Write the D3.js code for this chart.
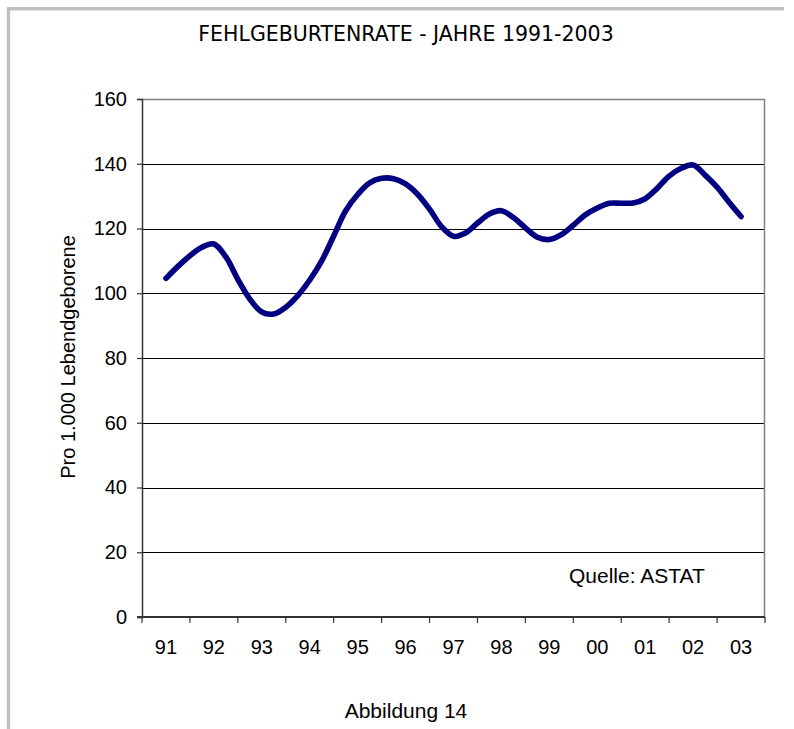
<!DOCTYPE html>
<html>
<head>
<meta charset="utf-8">
<script src="https://cdn.jsdelivr.net/npm/d3@7"></script>
<style>
  body { margin: 0; background: #fff; }
  svg { display: block; }
  text { font-family: "Liberation Sans", Arial, sans-serif; fill: #000; }
</style>
</head>
<body>
<svg id="chart" width="794" height="729"></svg>
<script>
// year categories on the x axis
var years = ["91", "92", "93", "94", "95", "96", "97", "98", "99", "00", "01", "02", "03"]
// quarterly rate per 1000 live births, 1991 to 2003
var rates = [
  104.6, 108.3, 111.6, 114.2, 115.2, 111.2, 104.3, 98.2,
  94.2, 93.6, 95.7, 99.3, 104.1, 110.0, 117.7, 125.5,
  130.5, 134.1, 135.5, 135.4, 133.8, 130.6, 126.0, 120.6,
  117.6, 118.6, 121.7, 124.5, 125.5, 123.4, 120.2, 117.3,
  116.6, 118.1, 121.0, 124.2, 126.3, 127.8, 127.8, 127.9,
  129.2, 132.4, 136.2, 138.6, 139.6, 136.5, 132.8, 128.1, 123.7
]
var yTicks = [0, 20, 40, 60, 80, 100, 120, 140, 160]

var svg = d3.select("#chart")

// outer frame, only top and left edges show
svg.append("line").attr("x1", 7).attr("x2", 784).attr("y1", 8.7).attr("y2", 8.7)
  .attr("stroke", "#c0c0c0").attr("stroke-width", 3.4)
svg.append("line").attr("x1", 8.5).attr("x2", 8.5).attr("y1", 7).attr("y2", 729)
  .attr("stroke", "#c0c0c0").attr("stroke-width", 3.4)

// plot area box (named so they don't clash with window.top)
var plotLeft = 142, plotRight = 765, plotTop = 99, plotBottom = 617

var x = d3.scaleBand().domain(years).range([plotLeft, plotRight]).padding(0)
var y = d3.scaleLinear().domain([0, 160]).range([plotBottom, plotTop])
// position of a quarter (in years since the first one) along the axis
var xq = d3.scaleLinear().domain([0, years.length - 1])
  .range([x(years[0]) + x.bandwidth() / 2, x(years[years.length - 1]) + x.bandwidth() / 2])

// gridlines
svg.append("g").selectAll("line")
  .data(yTicks.filter(function(d) { return d > 0 && d < 160 }))
  .join("line")
  .attr("x1", plotLeft).attr("x2", plotRight)
  .attr("y1", function(d) { return Math.round(y(d)) + 0.5 })
  .attr("y2", function(d) { return Math.round(y(d)) + 0.5 })
  .attr("stroke", "#000").attr("stroke-width", 1)

// plot area border, top and right in grey
svg.append("path")
  .attr("d", "M" + plotLeft + "," + (plotTop + 0.5) + "H" + (plotRight - 0.5) + "V" + plotBottom)
  .attr("fill", "none").attr("stroke", "#808080").attr("stroke-width", 1.5)

// y axis
var yAxis = svg.append("g").attr("transform", "translate(" + plotLeft + ",0)")
  .call(d3.axisLeft(y).tickValues(yTicks).tickSize(5).tickPadding(10))
yAxis.select(".domain").attr("stroke", "#333").attr("stroke-width", 1.5)
yAxis.selectAll(".tick line").attr("stroke", "#333").attr("stroke-width", 1.2)
yAxis.selectAll("text").attr("font-size", 20).attr("font-family", "Liberation Sans, Arial, sans-serif")

// x axis: ticks between categories, labels centred
var xAxis = svg.append("g").attr("transform", "translate(0," + plotBottom + ")")
xAxis.append("line").attr("x1", plotLeft - 5).attr("x2", plotRight).attr("y1", 0).attr("y2", 0)
  .attr("stroke", "#333").attr("stroke-width", 2)
xAxis.selectAll(".sep")
  .data(years.map(function(d) { return x(d) }).concat([plotRight]))
  .join("line").attr("class", "sep")
  .attr("x1", function(d) { return d }).attr("x2", function(d) { return d })
  .attr("y1", 0).attr("y2", 6)
  .attr("stroke", "#333").attr("stroke-width", 1.2)
xAxis.selectAll(".lab")
  .data(years).join("text").attr("class", "lab")
  .attr("x", function(d) { return x(d) + x.bandwidth() / 2 })
  .attr("y", 30)
  .attr("dy", "0.35em")
  .attr("text-anchor", "middle")
  .attr("font-size", 20)
  .text(function(d) { return d })

// the smoothed series line
var line = d3.line()
  .x(function(d, i) { return xq(i / 4) })
  .y(function(d) { return y(d) })
  .curve(d3.curveCatmullRom.alpha(0.5))

svg.append("path").datum(rates)
  .attr("d", line)
  .attr("fill", "none")
  .attr("stroke", "#000080")
  .attr("stroke-width", 5.6)
  .attr("stroke-linecap", "round")
  .attr("stroke-linejoin", "round")

// texts
svg.append("text").attr("x", 406).attr("y", 41).attr("text-anchor", "middle")
  .style("font-family", "DejaVu Sans, sans-serif")
  .attr("font-size", 20.5).text("FEHLGEBURTENRATE - JAHRE 1991-2003")

svg.append("text").attr("transform", "translate(75,357) rotate(-90)")
  .attr("text-anchor", "middle").attr("font-size", 20)
  .text("Pro 1.000 Lebendgeborene")

svg.append("text").attr("x", 569).attr("y", 583).attr("font-size", 21)
  .text("Quelle: ASTAT")

svg.append("text").attr("x", 406).attr("y", 718).attr("text-anchor", "middle")
  .attr("font-size", 21).text("Abbildung 14")
</script>
</body>
</html>
